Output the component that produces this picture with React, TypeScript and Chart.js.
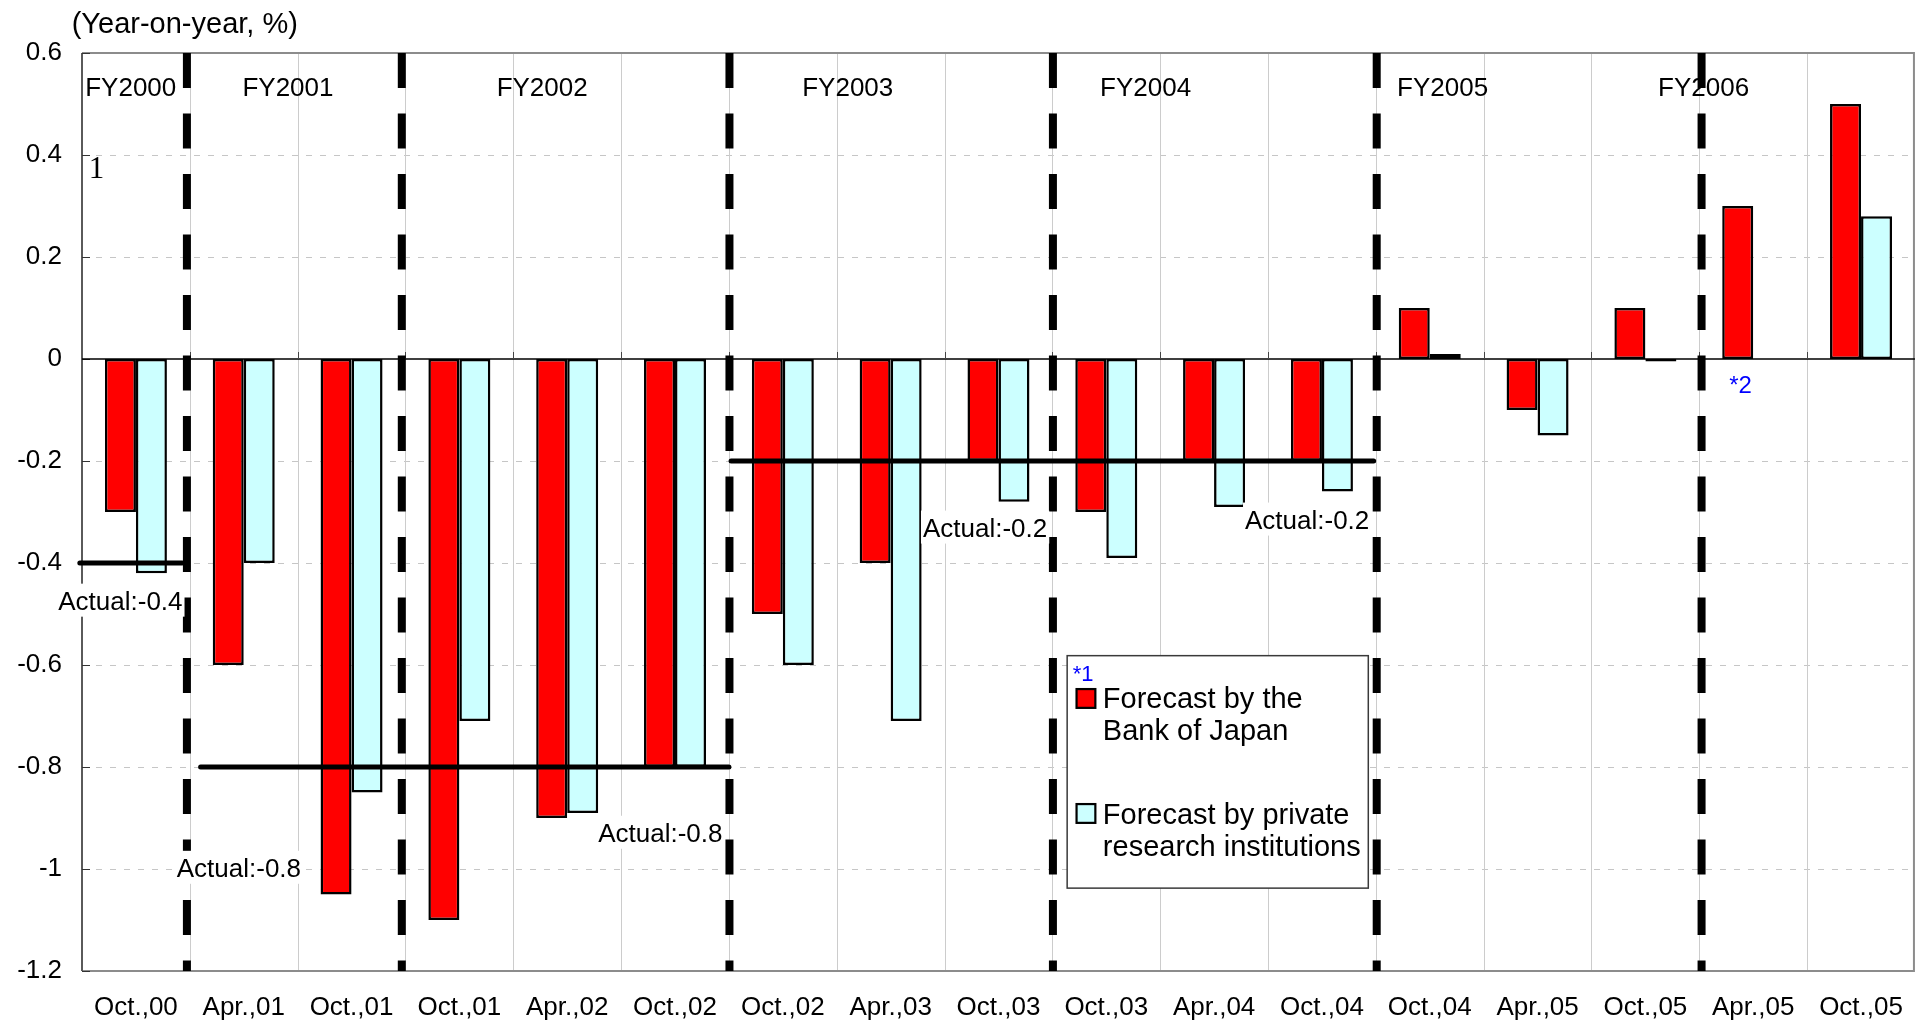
import React, { useEffect, useRef } from 'react';
import { Chart, registerables } from 'chart.js';

Chart.register(...registerables);

// ---------- data ----------
const categories = [
  'Oct.,00', 'Apr.,01', 'Oct.,01', 'Oct.,01', 'Apr.,02', 'Oct.,02', 'Oct.,02', 'Apr.,03', 'Oct.,03',
  'Oct.,03', 'Apr.,04', 'Oct.,04', 'Oct.,04', 'Apr.,05', 'Oct.,05', 'Apr.,05', 'Oct.,05',
];
const bojForecast = [-0.3, -0.6, -1.05, -1.1, -0.9, -0.8, -0.5, -0.4, -0.2, -0.3, -0.2, -0.2, 0.1, -0.1, 0.1, 0.3, 0.5];
const privateForecast = [-0.42, -0.4, -0.85, -0.71, -0.89, -0.8, -0.6, -0.71, -0.28, -0.39, -0.29, -0.26, 0.01, -0.15, -0.005, null, 0.28];
const yTickValues = [0.6, 0.4, 0.2, 0, -0.2, -0.4, -0.6, -0.8, -1, -1.2];
const seriesNames = ['Forecast by the Bank of Japan', 'Forecast by private research institutions'];
const fiscalYears = ['FY2000', 'FY2001', 'FY2002', 'FY2003', 'FY2004', 'FY2005', 'FY2006'];
const actualValues = [-0.4, -0.8, -0.2];
const actualLabelTexts = ['Actual:-0.4', 'Actual:-0.8', 'Actual:-0.8', 'Actual:-0.2', 'Actual:-0.2'];
const yAxisTitle = '(Year-on-year, %)';

// ---------- annotation placement (category-index / value units) ----------
const fiscalYearLabelAt = [-0.048, 1.41, 3.768, 6.602, 9.365, 12.119, 14.54];
const fiscalYearDividerAt = [0.473, 2.466, 5.505, 8.505, 11.508, 14.521];
const actualSpanAt = [
  [-0.52, 0.43],
  [0.6, 5.5],
  [5.52, 11.48],
];
const actualLabelAt = [
  [-0.144, -0.4915],
  [0.955, -1.0153],
  [4.864, -0.9466],
  [7.876, -0.3482],
  [10.863, -0.3325],
];
const legendBoxAt = { x1: 8.637, x2: 11.43, yTop: -0.5817, yBottom: -1.0375 };
const note2At = [14.778, -0.0657];
const note1At = [-0.365, 0.3548];

const SANS = '"Liberation Sans", Arial, Helvetica, sans-serif';
const RED = '#ff0000';
const CYAN = '#ccffff';

function seg(ctx: CanvasRenderingContext2D, x1: number, y1: number, x2: number, y2: number) {
  ctx.beginPath();
  ctx.moveTo(x1, y1);
  ctx.lineTo(x2, y2);
  ctx.stroke();
}

function txt(
  ctx: CanvasRenderingContext2D,
  s: string,
  x: number,
  y: number,
  font: string,
  color = '#000',
  align: CanvasTextAlign = 'left',
) {
  ctx.font = font;
  ctx.fillStyle = color;
  ctx.textAlign = align;
  ctx.textBaseline = 'alphabetic';
  ctx.fillText(s, x, y);
}

const decorPlugin = {
  id: 'decor',
  beforeDatasetsDraw(chart: any) {
    const { ctx, chartArea: a } = chart;
    const x = chart.scales.x;
    const y = chart.scales.y;
    ctx.save();
    // horizontal dashed gridlines
    ctx.strokeStyle = '#c6c6c6';
    ctx.lineWidth = 1;
    ctx.setLineDash([6, 8]);
    yTickValues.forEach((v) => {
      if (v === 0 || v === yTickValues[0] || v === yTickValues[yTickValues.length - 1]) return;
      const py = Math.round(y.getPixelForValue(v)) + 0.5;
      seg(ctx, a.left, py, a.right, py);
    });
    ctx.setLineDash([]);
    // vertical gridlines at category boundaries
    ctx.strokeStyle = '#cccccc';
    for (let k = 1; k < categories.length; k++) {
      const px = Math.round(x.getPixelForValue(k - 0.5)) + 0.5;
      seg(ctx, px, a.top, px, a.bottom);
    }
    // frame
    ctx.strokeStyle = '#8c8c8c';
    ctx.lineWidth = 2;
    ctx.beginPath();
    ctx.moveTo(a.left, a.top);
    ctx.lineTo(a.right - 1, a.top);
    ctx.lineTo(a.right - 1, a.bottom);
    ctx.lineTo(a.left, a.bottom);
    ctx.stroke();
    ctx.strokeStyle = '#5a5a5a';
    seg(ctx, a.left, a.top, a.left, a.bottom);
    // y tick marks (inside)
    ctx.strokeStyle = '#333';
    ctx.lineWidth = 1;
    yTickValues.forEach((v) => {
      const py = Math.round(y.getPixelForValue(v)) + 0.5;
      seg(ctx, a.left, py, a.left + 8, py);
    });
    // zero line
    const y0 = y.getPixelForValue(0);
    ctx.strokeStyle = '#000';
    ctx.lineWidth = 1.5;
    seg(ctx, a.left, y0, a.right, y0);
    // x tick marks on zero line
    ctx.strokeStyle = '#444';
    ctx.lineWidth = 1;
    for (let k = 1; k < categories.length; k++) {
      const px = Math.round(x.getPixelForValue(k - 0.5)) + 0.5;
      seg(ctx, px, y0 - 7, px, y0);
    }
    ctx.restore();
  },
  afterDatasetsDraw(chart: any) {
    const { ctx, chartArea: a } = chart;
    const x = chart.scales.x;
    const y = chart.scales.y;
    ctx.save();
    // fiscal-year dividers
    ctx.strokeStyle = '#000';
    ctx.lineWidth = 8;
    ctx.setLineDash([35, 25.5]);
    fiscalYearDividerAt.forEach((k) => {
      const px = x.getPixelForValue(k);
      seg(ctx, px, a.top, px, a.bottom);
    });
    ctx.setLineDash([]);
    // actual lines
    ctx.lineWidth = 5;
    ctx.lineCap = 'round';
    actualValues.forEach((v, i) => {
      const py = y.getPixelForValue(v);
      seg(ctx, x.getPixelForValue(actualSpanAt[i][0]), py, x.getPixelForValue(actualSpanAt[i][1]), py);
    });
    ctx.lineCap = 'butt';
    // actual labels with white background
    const labelFont = `26px ${SANS}`;
    ctx.font = labelFont;
    actualLabelTexts.forEach((s, i) => {
      const cx = x.getPixelForValue(actualLabelAt[i][0]);
      const by = y.getPixelForValue(actualLabelAt[i][1]);
      const w = ctx.measureText(s).width;
      ctx.fillStyle = '#fff';
      ctx.fillRect(cx - w / 2 - 2, by - 26, w + 4, 33);
      txt(ctx, s, cx, by, labelFont, '#000', 'center');
    });
    // fiscal-year labels
    fiscalYears.forEach((s, i) => {
      txt(ctx, s, x.getPixelForValue(fiscalYearLabelAt[i]), a.top + 42.5, `26px ${SANS}`, '#000', 'center');
    });
    // legend
    const lx1 = x.getPixelForValue(legendBoxAt.x1);
    const lx2 = x.getPixelForValue(legendBoxAt.x2);
    const ly1 = y.getPixelForValue(legendBoxAt.yTop);
    const ly2 = y.getPixelForValue(legendBoxAt.yBottom);
    ctx.fillStyle = '#fff';
    ctx.fillRect(lx1, ly1, lx2 - lx1, ly2 - ly1);
    ctx.strokeStyle = '#3a3a3a';
    ctx.lineWidth = 1.5;
    ctx.strokeRect(lx1, ly1, lx2 - lx1, ly2 - ly1);
    txt(ctx, '*1', lx1 + 5.5, ly1 + 25.5, `22px ${SANS}`, '#0000ff');
    const sq = (top: number, color: string) => {
      ctx.fillStyle = '#000';
      ctx.fillRect(lx1 + 8.3, ly1 + top, 21, 21);
      ctx.fillStyle = color;
      ctx.fillRect(lx1 + 10.5, ly1 + top + 2.2, 16.6, 16.6);
    };
    sq(32.3, RED);
    sq(147.3, CYAN);
    const legFont = `29px ${SANS}`;
    const tx = lx1 + 35.7;
    txt(ctx, 'Forecast by the', tx, ly1 + 52.3, legFont);
    txt(ctx, 'Bank of Japan', tx, ly1 + 84.5, legFont);
    txt(ctx, 'Forecast by private', tx, ly1 + 168.3, legFont);
    txt(ctx, 'research institutions', tx, ly1 + 200.7, legFont);
    // notes
    txt(ctx, '*2', x.getPixelForValue(note2At[0]), y.getPixelForValue(note2At[1]), `24px ${SANS}`, '#0000ff');
    txt(ctx, '1', x.getPixelForValue(note1At[0]), y.getPixelForValue(note1At[1]), `31px "Liberation Serif", "Times New Roman", serif`, '#000', 'center');
    // y axis unit title
    txt(ctx, yAxisTitle, 71.7, 33.3, `29px ${SANS}`);
    ctx.restore();
  },
};

export default function App() {
  const canvasRef = useRef<HTMLCanvasElement | null>(null);

  useEffect(() => {
    document.body.style.margin = '0';
    const canvas = canvasRef.current;
    if (!canvas) return;
    const chart = new Chart(canvas, {
      type: 'bar',
      data: {
        labels: categories,
        datasets: [
          {
            label: seriesNames[0],
            data: bojForecast,
            backgroundColor: RED,
            borderColor: '#000',
            borderWidth: 2.5,
            borderSkipped: false,
            categoryPercentage: 0.575,
            barPercentage: 1,
          },
          {
            label: seriesNames[1],
            data: privateForecast,
            backgroundColor: CYAN,
            borderColor: '#000',
            borderWidth: 2.5,
            borderSkipped: false,
            categoryPercentage: 0.575,
            barPercentage: 1,
          },
        ],
      },
      options: {
        responsive: false,
        devicePixelRatio: 1,
        animation: false,
        layout: { padding: { top: 53, right: 2, left: 0, bottom: 0 } },
        plugins: { legend: { display: false }, tooltip: { enabled: false } },
        scales: {
          x: {
            grid: { display: false, drawTicks: false },
            border: { display: false },
            ticks: {
              color: '#000',
              font: { size: 26, family: SANS },
              padding: 21,
              maxRotation: 0,
              autoSkip: false,
            },
            afterFit: (scale: any) => {
              scale.height = 52;
            },
          },
          y: {
            min: -1.2,
            max: 0.6,
            grid: { display: false, drawTicks: false },
            border: { display: false },
            afterBuildTicks: (scale: any) => {
              scale.ticks = yTickValues.map((v) => ({ value: v }));
            },
            ticks: {
              color: '#000',
              font: { size: 26, family: SANS },
              padding: 20,
              callback: (v: any) => String(Math.round(Number(v) * 10) / 10),
            },
            afterFit: (scale: any) => {
              scale.width = 82;
            },
          },
        },
      },
      plugins: [decorPlugin],
    });
    return () => chart.destroy();
  }, []);

  return (
    <div style={{ width: 1924, height: 1023, position: 'relative' }}>
      <canvas ref={canvasRef} width={1924} height={1023} style={{ display: 'block' }} />
    </div>
  );
}
